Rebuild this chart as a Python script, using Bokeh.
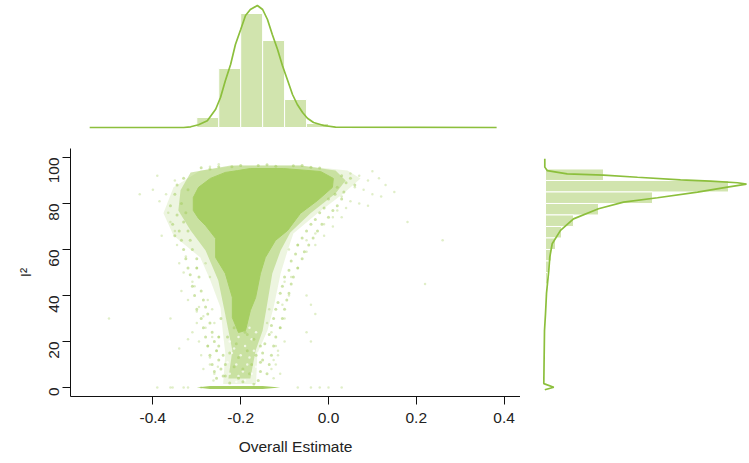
from math import pi
from bokeh.plotting import figure
from bokeh.layouts import column, row
from bokeh.models import FixedTicker
from bokeh.embed import file_html
from bokeh.resources import INLINE

CORE = "#a6ce62"
BAR = "#d1e4ae"
LINE = "#8cbf3c"
FONT = "Liberation Sans"

# Top marginal: overall estimate
est_bin_left = [-0.30, -0.25, -0.20, -0.15, -0.10, -0.05]
est_bin_right = [-0.25, -0.20, -0.15, -0.10, -0.05, 0.0]
est_counts = [10, 59, 114, 87, 28, 4]
est_curve_x = [-0.544, -0.33, -0.314, -0.296, -0.276, -0.257, -0.246, -0.235, -0.223, -0.212, -0.200, -0.189,
               -0.178, -0.162, -0.150, -0.139, -0.128, -0.116, -0.105, -0.093, -0.082, -0.071, -0.059,
               -0.048, -0.034, -0.011, 0.016, 0.383]
est_curve_y = [0, 0, 0.7, 2.7, 6.7, 18.3, 30, 46.7, 63, 83, 98, 112, 118, 122, 118, 108, 93, 78, 62, 47, 33, 23,
               15, 9.3, 5, 2, 0.3, 0]

# Right marginal: I2
i2_bin_low = [90, 85, 80, 75, 70, 65, 60, 55, 50, 45, 40]
i2_bin_high = [95, 90, 85, 80, 75, 70, 65, 60, 55, 50, 45]
i2_counts = [58, 183, 107, 53, 28, 16, 10, 6, 3.5, 2, 1]
i2_curve_len = [-0.7, -0.7, 1.7, 21.7, 58, 92, 135, 165, 192, 201, 182, 152, 112, 78, 53, 28, 15, 6.7, 4.3, 3.3,
                1, 0, -1, -1.7, 8.3, -0.7]
i2_curve_val = [99.4, 95.8, 94.3, 92.9, 92.3, 91.4, 90.3, 89.7, 89.0, 88.4, 87.1, 84.9, 82.5, 80.6, 77.7, 73.3,
                68.3, 62.5, 56.7, 50.9, 40.9, 32, 24.8, 1.7, 0.1, -1]

# Scatter: solid body of the cloud
core_est = [-0.207, -0.235, -0.269, -0.296, -0.308, -0.308, -0.296, -0.280, -0.257, -0.257, -0.235, -0.219, -0.219,
            -0.205, -0.189, -0.178, -0.166, -0.155, -0.144, -0.121, -0.093, -0.064, -0.025, 0.009, 0.011, -0.018,
            -0.103, -0.178]
core_i2 = [94.3, 93.5, 90.9, 87, 82.6, 77, 73.5, 70.4, 64.8, 56.5, 49.6, 39.1, 30.4, 23.9, 24.8, 33.5, 39.1, 49.6,
           56.5, 63.9, 68.3, 75.7, 81.3, 87, 90.9, 93.9, 95.2, 95.2]

# Scatter: dense speckle hugging the body
dense_est = [-0.223, -0.314, -0.337, -0.342, -0.314, -0.280, -0.251, -0.237, -0.228, -0.219, -0.228, -0.178, -0.166,
             -0.150, -0.141, -0.128, -0.109, -0.087, -0.041, 0.016, 0.039, 0.016, -0.064]
dense_i2 = [96.5, 93.5, 85.7, 77, 68.3, 59.6, 46.5, 33.5, 24.8, 16.1, 3.9, 3.9, 16.1, 24.8, 34.8, 49.6, 59.6, 67.4,
            75.7, 84.3, 90, 94.3, 96.5]

# Scatter: thin speckle around it
band_est = [-0.207, -0.292, -0.353, -0.376, -0.353, -0.292, -0.269, -0.246, -0.241, -0.235, -0.240, -0.165, -0.162,
            -0.139, -0.125, -0.109, -0.093, -0.080, -0.025, 0.034, 0.073, 0.043, -0.064]
band_i2 = [96.5, 94.3, 87, 75.7, 66.1, 56.5, 46.5, 34.8, 24.8, 14.8, 1.5, 1.5, 14.8, 24.8, 34.8, 49.6, 59.6, 67,
           75.7, 84.3, 90.9, 94.3, 96.5]

# Scatter: studies with I2 of zero
zero_est = [-0.30, -0.27, -0.15, -0.11, -0.15, -0.27]
zero_i2 = [0, 0.7, 0.7, 0, -0.7, -0.7]

# Scatter: sparse outlying points
sparse_est = [-0.40, -0.385, -0.37, -0.36, -0.35, -0.345, -0.38, -0.365, -0.39, -0.34, -0.33, -0.325, -0.31, -0.30,
              -0.35, -0.335, -0.32, -0.305, -0.295, -0.30, -0.285, -0.31, -0.295, -0.28, -0.29, -0.275, -0.27, -0.265,
              -0.26, -0.285, -0.275, -0.27, -0.265, -0.28, -0.26, -0.255, -0.27, -0.25, -0.262, -0.252,
              -0.30, -0.32, -0.34, -0.36, -0.43, -0.50,
              0.05, 0.07, 0.09, 0.10, 0.115, 0.13, 0.06, 0.08, 0.10, 0.12, 0.03, 0.05, 0.07, 0.09, 0.02, 0.04, 0.01,
              0.03, -0.01, 0.01, -0.03, -0.01, -0.05, -0.03, -0.07, -0.05, -0.09, -0.07, -0.085, -0.10, -0.09, -0.105,
              -0.10, -0.11, -0.10, -0.115, -0.12, -0.11, -0.125, -0.115, -0.13, -0.12, -0.135, -0.125, -0.14, -0.13,
              -0.05, -0.04, -0.03, -0.05, -0.04, 0.15, 0.18, 0.22, 0.26,
              -0.33, -0.36, -0.39, -0.07, -0.04, -0.02, 0.0, 0.03, -0.355, -0.32, -0.29, -0.23, -0.18, -0.27, -0.25]
sparse_i2 = [86, 81, 84, 72, 68, 62, 66, 76, 92, 54, 50, 57, 46, 52, 90, 42, 38, 44, 35, 28, 31, 24, 20, 26, 14, 18,
             10, 22, 6, 8, 38, 48, 34, 54, 28, 16, 13, 22, 3, 9,
             33, 21, 17, 30, 84, 30,
             93, 92, 90, 94, 91, 88, 87, 86, 84, 83, 83, 81, 80, 79, 77, 78, 74, 74, 71, 70, 67, 66, 64, 62, 62, 59,
             60, 52, 48, 46, 40, 36, 30, 26, 20, 14, 10, 6, 4, 16, 24, 18, 34, 12, 28, 8,
             40, 36, 32, 24, 20, 85, 72, 45, 64,
             0, 0, 0, 0, 0, 0, 0, 0, 0, 0, 0, 0, 0, 96, 97]

# Scatter: fringe points, stronger, along the edge of the body
fringe_est = [-0.33, -0.345, -0.35, -0.32, -0.335, -0.36, -0.345, -0.33, -0.355, -0.325, -0.34, -0.35, -0.32, -0.335,
              -0.33, -0.315, -0.325, -0.31, -0.32, -0.30, -0.315, -0.30, -0.31, -0.295, -0.29, -0.305, -0.285, -0.30,
              -0.28, -0.29, -0.275, -0.285, -0.27, -0.28, -0.265, -0.275, -0.26, -0.27, -0.255, -0.265, -0.25, -0.26,
              -0.245, -0.255, -0.24, -0.25, -0.245, -0.24, -0.25, -0.235,
              0.03, 0.05, 0.04, 0.06, 0.02, 0.035, 0.015, 0.03, 0.0, 0.02, -0.01, 0.01, -0.02, 0.0, -0.03, -0.015,
              -0.04, -0.025, -0.05, -0.035, -0.06, -0.045, -0.07, -0.055, -0.075, -0.06, -0.085, -0.07, -0.09, -0.08,
              -0.10, -0.085, -0.105, -0.09, -0.11, -0.095, -0.115, -0.10, -0.12, -0.105, -0.125, -0.11, -0.13, -0.12,
              -0.135, -0.125, -0.145, -0.13, -0.15, -0.135, -0.155, -0.14,
              -0.29, -0.25, -0.20, -0.16, -0.12, -0.08, -0.04, -0.02, -0.27, -0.22, -0.14, -0.06,
              -0.23, -0.21, -0.19, -0.17, -0.155, -0.225, -0.205, -0.185, -0.165, -0.215, -0.195, -0.175, -0.155,
              -0.235, -0.205, -0.18, -0.16, -0.225, -0.195, -0.17, -0.215, -0.185, -0.15]
fringe_i2 = [91, 88, 84, 86, 80, 79, 75, 72, 71, 76, 68, 66, 68, 64, 60, 64, 56, 60, 52, 56, 49, 52, 44, 48, 42, 40,
             38, 34, 35, 30, 32, 26, 28, 22, 24, 18, 20, 14, 16, 10, 12, 7, 8, 4, 5, 22, 30, 14, 18, 10,
             92, 91, 89, 88, 87, 85, 84, 82, 82, 79, 78, 77, 76, 74, 73, 71, 71, 68, 68, 65, 65, 62, 62, 59, 58, 56,
             55, 52, 51, 48, 48, 45, 44, 41, 41, 38, 37, 34, 34, 30, 30, 26, 27, 22, 23, 18, 19, 14, 15, 10, 11, 6,
             95.5, 96, 96.5, 96.5, 96.2, 96.4, 95.8, 95.4, 95, 96, 96.8, 96.5,
             22, 19, 24, 21, 18, 15, 13, 16, 14, 9, 8, 10, 7, 5, 4, 6, 3, 2, 2.5, 1.5, 26, 23, 12]

# Scatter: small gaps showing through the thin lower stem
gap_est = [-0.225, -0.205, -0.175, -0.165, -0.215, -0.19, -0.17, -0.20, -0.18, -0.16, -0.23, -0.21, -0.185, -0.165,
           -0.195, -0.175, -0.225, -0.205, -0.16, -0.19, -0.21, -0.17, -0.22, -0.18]
gap_i2 = [20, 22, 21, 24, 17, 18, 16, 14, 13, 15, 11, 10, 10, 9, 7, 6, 6, 5, 5, 3, 2.5, 2, 15, 26]

# Axis ticks and labels
x_ticks = [-0.4, -0.2, 0.0, 0.2, 0.4]
y_ticks = [0, 20, 40, 60, 80, 100]
x_title = "Overall Estimate"
y_title = "I²"

X0, X1 = -0.5877, 0.4374
Y0, Y1 = -3.913, 103.9


def bare(fig):
    fig.axis.visible = False
    fig.grid.visible = False
    fig.outline_line_color = None


top = figure(width=520, height=133, x_range=(X0, X1), y_range=(-6, 127), toolbar_location=None,
             output_backend="svg", min_border_left=70, min_border_right=0, min_border_top=0, min_border_bottom=0)
bare(top)
top.quad(left=est_bin_left, right=est_bin_right, bottom=[0] * len(est_counts), top=est_counts,
         fill_color=BAR, line_color="white", line_width=1)
top.line(est_curve_x, est_curve_y, line_color=LINE, line_width=1.7)

p = figure(width=520, height=330, x_range=(X0, X1), y_range=(Y0, Y1), toolbar_location=None,
           output_backend="svg", min_border_left=70, min_border_right=0, min_border_top=15, min_border_bottom=67,
           x_axis_label=x_title, y_axis_label=y_title)
p.grid.visible = False
p.outline_line_color = None
p.patch(band_est, band_i2, fill_color=CORE, fill_alpha=0.2, line_color=None)
p.patch(dense_est, dense_i2, fill_color=CORE, fill_alpha=0.5, line_color=None)
p.scatter(gap_est, gap_i2, size=2.5, fill_color="white", fill_alpha=0.7, line_color=None)
p.scatter(sparse_est, sparse_i2, size=2.5, fill_color=CORE, fill_alpha=0.35, line_color=None)
p.scatter(fringe_est, fringe_i2, size=3, fill_color=CORE, fill_alpha=0.55, line_color=None)
p.patch(core_est, core_i2, fill_color=CORE, line_color=CORE, line_width=1)
p.patch(zero_est, zero_i2, fill_color=CORE, line_color=None)
for ax in (p.xaxis[0], p.yaxis[0]):
    ax.major_tick_out = 8
    ax.major_tick_in = 0
    ax.minor_tick_line_color = None
    ax.axis_line_color = "#111111"
    ax.major_tick_line_color = "#111111"
    ax.major_label_text_font = FONT
    ax.major_label_text_font_size = "15.5px"
    ax.major_label_text_color = "#222222"
    ax.axis_label_text_font = FONT
    ax.axis_label_text_font_size = "15.5px"
    ax.axis_label_text_font_style = "normal"
    ax.axis_label_text_color = "#222222"
p.xaxis[0].ticker = FixedTicker(ticks=x_ticks)
p.yaxis[0].ticker = FixedTicker(ticks=y_ticks)
p.xaxis[0].major_label_overrides = {v: f"{v:.1f}" for v in x_ticks}
p.yaxis[0].major_label_orientation = pi / 2
p.xaxis[0].major_label_standoff = 8
p.yaxis[0].major_label_standoff = 8
p.xaxis[0].axis_label_standoff = 12
p.yaxis[0].axis_label_standoff = 8

side = figure(width=229, height=330, x_range=(-25, 204), y_range=(Y0, Y1), toolbar_location=None,
              output_backend="svg", min_border_left=0, min_border_right=0, min_border_top=15, min_border_bottom=67)
bare(side)
side.quad(left=[0] * len(i2_counts), right=i2_counts, bottom=i2_bin_low, top=i2_bin_high,
          fill_color=BAR, line_color="white", line_width=1)
side.line(i2_curve_len, i2_curve_val, line_color=LINE, line_width=1.7)

blank = figure(width=229, height=133, toolbar_location=None, output_backend="svg",
               min_border_left=0, min_border_right=0, min_border_top=0, min_border_bottom=0)
bare(blank)

page = column(row(top, blank, spacing=0), row(p, side, spacing=0), spacing=0)
open("out.html", "w").write(file_html(page, INLINE))
